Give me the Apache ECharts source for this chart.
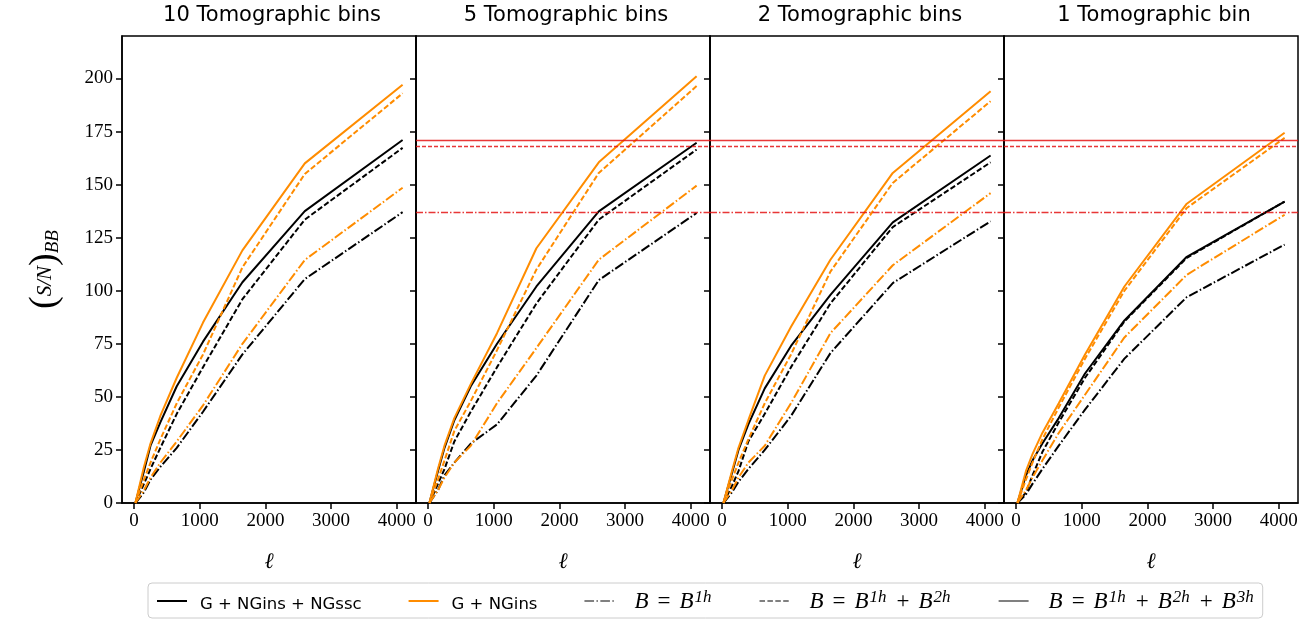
<!DOCTYPE html>
<html>
<head>
<meta charset="utf-8">
<script src="https://cdn.jsdelivr.net/npm/echarts@6/dist/echarts.min.js"></script>
<style>
html,body{margin:0;padding:0;background:#fff;}
#chart{width:1313px;height:624px;}
</style>
</head>
<body>
<div id="chart"></div>
<script>
// multipole values where S/N is evaluated
const ell = [20, 150, 250, 400, 650, 1050, 1650, 2600, 4090];

// 10 tomographic bins
const b10_ssc_123 = [0, 15, 27, 38, 55, 76, 104, 137.5, 171];
const b10_ssc_12  = [0, 9, 16, 26, 42, 64, 96, 133.5, 167.3];
const b10_ssc_1   = [0, 5, 11, 17, 26, 43, 70, 105.5, 137];
const b10_ins_123 = [0, 17, 28, 41, 59, 85, 119, 160, 197];
const b10_ins_12  = [0, 11, 19, 30, 47, 70, 111, 155, 193];
const b10_ins_1   = [0, 6, 12, 19, 29, 46, 75, 114.5, 148.5];
// 5 tomographic bins
const b5_ssc_123 = [0, 15, 26, 39, 55, 75, 102, 137.4, 169.7];
const b5_ssc_12  = [0, 9, 16, 29, 43, 64, 94, 133.5, 166.5];
const b5_ssc_1   = [0, 6, 13, 19, 28, 37, 60, 105, 136.6];
const b5_ins_123 = [0, 16, 27, 40, 56, 80, 120, 160.5, 201];
const b5_ins_12  = [0, 11, 20, 34, 48, 72, 110, 155.5, 196.4];
const b5_ins_1   = [0, 6, 12, 19, 27, 47, 73, 114.6, 149.5];
// 2 tomographic bins
const b2_ssc_123 = [0, 14, 25, 37, 54, 74, 98, 132.2, 163.7];
const b2_ssc_12  = [0, 8, 15, 29, 42, 64, 94, 130, 160.5];
const b2_ssc_1   = [0, 5, 10, 16, 25, 41, 70.6, 103.6, 132.7];
const b2_ins_123 = [0, 15, 26, 39, 60, 83, 114.6, 155.5, 194];
const b2_ins_12  = [0, 11, 19, 30, 47, 70, 109, 150.8, 189.3];
const b2_ins_1   = [0, 6, 12, 19, 27, 47, 80, 112, 146];
// 1 tomographic bin
const b1_ssc_123 = [0, 13, 20, 28, 40, 61, 86, 116, 142];
const b1_ssc_12  = [0, 5, 13, 24, 38, 59, 85.5, 115.5, 142];
const b1_ssc_1   = [0, 4, 9, 16, 27, 44, 68, 97, 121.7];
const b1_ins_123 = [0, 15, 23, 33, 47, 70, 102, 141, 174.4];
const b1_ins_12  = [0, 11, 19, 30, 45, 68, 100, 139, 172];
const b1_ins_1   = [0, 6, 12, 20, 33, 51, 78, 107.5, 135.8];

// reference levels (10-bin G+NGins+NGssc at highest ell)
const refSolid = 171;
const refDashed = 168;
const refDashDot = 137;

const panelTitles = ['10 Tomographic bins', '5 Tomographic bins', '2 Tomographic bins', '1 Tomographic bin'];
const xTicks = [0, 1000, 2000, 3000, 4000];
const yTicks = [0, 25, 50, 75, 100, 125, 150, 175, 200];
const legendNames = ['G + NGins + NGssc', 'G + NGins', 'B1h', 'B1h2h', 'B1h2h3h'];

const panels = [
  {ssc: [b10_ssc_123, b10_ssc_12, b10_ssc_1], ins: [b10_ins_123, b10_ins_12, b10_ins_1], ref: false},
  {ssc: [b5_ssc_123, b5_ssc_12, b5_ssc_1], ins: [b5_ins_123, b5_ins_12, b5_ins_1], ref: true},
  {ssc: [b2_ssc_123, b2_ssc_12, b2_ssc_1], ins: [b2_ins_123, b2_ins_12, b2_ins_1], ref: true},
  {ssc: [b1_ssc_123, b1_ssc_12, b1_ssc_1], ins: [b1_ins_123, b1_ins_12, b1_ins_1], ref: true}
];

const BLACK = '#000000';
const ORANGE = '#ff8c00';
const GRAY = '#808080';
const RED = 'rgba(228,20,20,0.85)';
const LW = 2;
const DASHED = [5.5, 2.4];
const DASHDOT = [9.6, 2.4, 1.5, 2.4];
const styles = ['solid', DASHED, DASHDOT];

const GL = 122, GW = 294, GT = 36, GH = 467;
const XMIN = -184, XMAX = 4294;

const grids = [], xAxes = [], yAxes = [], titles = [], series = [];
const tickFont = {fontFamily: 'Liberation Serif', fontSize: 19, color: '#000'};

panels.forEach((p, i) => {
  grids.push({left: GL + GW * i, top: GT, width: GW, height: GH, show: true,
    borderColor: '#000', borderWidth: 1.5, backgroundColor: 'transparent'});
  titles.push({text: panelTitles[i], left: GL + GW * i + GW / 2 - 2, top: 0, textAlign: 'center',
    textStyle: {fontFamily: 'DejaVu Sans', fontSize: 21, fontWeight: 'normal', color: '#000'}});
  xAxes.push({
    type: 'value', gridIndex: i, min: XMIN, max: XMAX,
    name: 'ℓ', nameLocation: 'middle', nameGap: 48,
    nameTextStyle: {fontFamily: 'DejaVu Serif', fontStyle: 'italic', fontSize: 22, color: '#000'},
    axisLine: {show: true, onZero: false, lineStyle: {color: '#000', width: 1.5}},
    axisTick: {show: true, inside: false, length: 6, customValues: xTicks, lineStyle: {color: '#000', width: 1.5}},
    axisLabel: {show: true, customValues: xTicks, margin: 9, formatter: v => String(v), ...tickFont},
    splitLine: {show: false}
  });
  yAxes.push({
    type: 'value', gridIndex: i, min: 0, max: 220,
    name: i === 0 ? '{p|(}{f|S/N}{p|)}{s|BB}' : '',
    nameLocation: 'middle', nameGap: 58, nameRotate: 90,
    nameTextStyle: {rich: {
      p: {fontFamily: 'Liberation Serif', fontSize: 38, color: '#000'},
      f: {fontFamily: 'Liberation Serif', fontStyle: 'italic', fontSize: 21, color: '#000'},
      s: {fontFamily: 'Liberation Serif', fontStyle: 'italic', fontSize: 19, color: '#000', padding: [16, 0, 0, 0]}
    }},
    axisLine: {show: true, onZero: false, lineStyle: {color: '#000', width: 1.5}},
    axisTick: {show: true, inside: false, length: 6, customValues: yTicks, lineStyle: {color: '#000', width: 1.5}},
    axisLabel: {show: i === 0, customValues: yTicks, margin: 9, formatter: v => String(v), ...tickFont},
    splitLine: {show: false}
  });
  const mk = (vals, color, type, nm) => ({
    type: 'line', name: nm, xAxisIndex: i, yAxisIndex: i,
    data: ell.map((x, k) => [x, vals[k]]),
    showSymbol: false, symbol: 'none', smooth: false, silent: true,
    lineStyle: {color: color, width: LW, type: type}, itemStyle: {color: color},
    animation: false
  });
  p.ssc.forEach((v, k) => series.push(mk(v, BLACK, styles[k], 'p' + i + 'ssc' + k)));
  p.ins.forEach((v, k) => series.push(mk(v, ORANGE, styles[k], 'p' + i + 'ins' + k)));
  if (p.ref) {
    series.push({
      type: 'line', name: 'ref' + i, xAxisIndex: i, yAxisIndex: i, data: [], silent: true,
      markLine: {silent: true, symbol: 'none', label: {show: false}, animation: false,
        data: [
          {yAxis: refSolid, lineStyle: {color: RED, width: 1.3, type: 'solid'}},
          {yAxis: refDashed, lineStyle: {color: RED, width: 1.3, type: [4, 2]}},
          {yAxis: refDashDot, lineStyle: {color: RED, width: 1.3, type: [7, 2, 1.5, 2]}}
        ]}
    });
  }
});

// legend-only series
const legendStyles = [
  {color: BLACK, type: 'solid'}, {color: ORANGE, type: 'solid'},
  {color: GRAY, type: DASHDOT}, {color: GRAY, type: DASHED}, {color: GRAY, type: 'solid'}
];
legendNames.forEach((n, k) => series.push({
  type: 'line', name: n, xAxisIndex: 0, yAxisIndex: 0, data: [], symbol: 'none',
  lineStyle: {color: legendStyles[k].color, width: 2, type: legendStyles[k].type},
  itemStyle: {color: legendStyles[k].color}
}));

const legendLabels = {
  'G + NGins + NGssc': '{t|G + NGins + NGssc}',
  'G + NGins': '{t|G + NGins}',
  'B1h': '{b|B}{m|=}{i|B}{s|1h}',
  'B1h2h': '{b|B}{m|=}{i|B}{s|1h}{m|+}{i|B}{s|2h}',
  'B1h2h3h': '{b|B}{m|=}{i|B}{s|1h}{m|+}{i|B}{s|2h}{m|+}{i|B}{s|3h}'
};

const chart = echarts.init(document.getElementById('chart'), null, {renderer: 'canvas'});
chart.setOption({
  animation: false,
  backgroundColor: '#fff',
  title: titles,
  grid: grids,
  xAxis: xAxes,
  yAxis: yAxes,
  legend: {
    data: legendNames, left: 148, top: 583, orient: 'horizontal',
    itemWidth: 30, itemHeight: 14, itemGap: 46,
    padding: [6, 8, 5, 8],
    borderColor: '#cccccc', borderWidth: 1, borderRadius: 4, backgroundColor: '#fff',
    selectedMode: false,
    itemStyle: {color: 'rgba(0,0,0,0)', borderWidth: 0, opacity: 0},
    formatter: n => legendLabels[n],
    textStyle: {color: '#000', rich: {
      t: {fontFamily: 'DejaVu Sans', fontSize: 16.5, color: '#000', lineHeight: 24, verticalAlign: 'bottom', padding: [0, 0, 0, 8]},
      b: {fontFamily: 'Liberation Serif', fontStyle: 'italic', fontSize: 23, color: '#000', lineHeight: 24, verticalAlign: 'bottom', padding: [0, 0, 0, 15]},
      i: {fontFamily: 'Liberation Serif', fontStyle: 'italic', fontSize: 23, color: '#000', lineHeight: 24, verticalAlign: 'bottom'},
      m: {fontFamily: 'Liberation Serif', fontSize: 23, color: '#000', lineHeight: 24, verticalAlign: 'bottom', padding: [0, 9, 0, 9]},
      s: {fontFamily: 'Liberation Serif', fontStyle: 'italic', fontSize: 17, color: '#000', verticalAlign: 'top', lineHeight: 16, padding: [0, 1, 0, 1]}
    }}
  },
  series: series
});
</script>
</body>
</html>
